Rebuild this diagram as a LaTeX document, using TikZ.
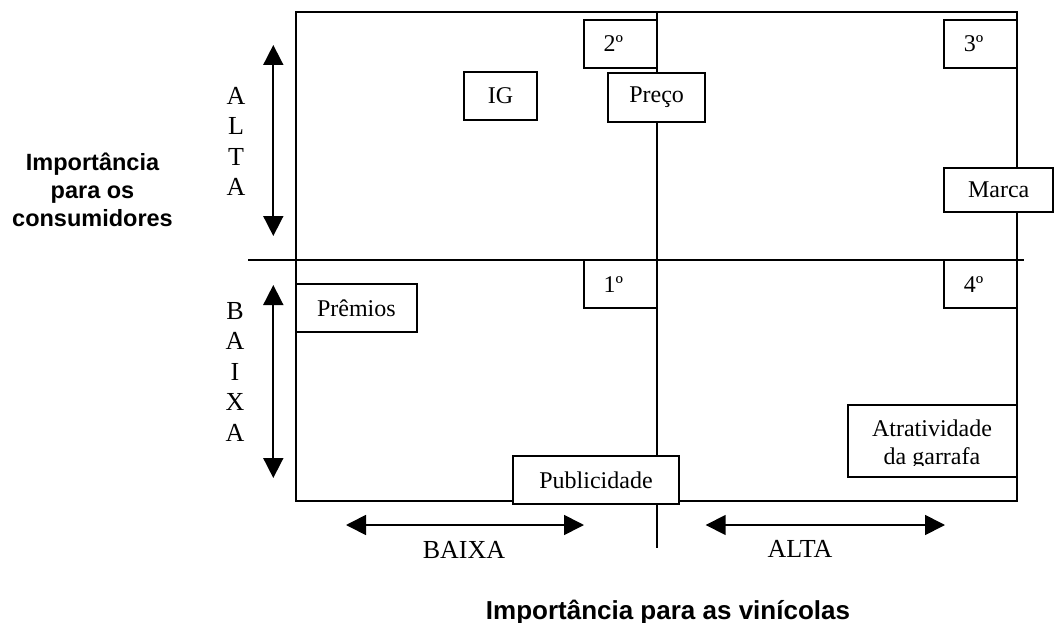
\documentclass[tikz,border=0pt]{standalone}
\usepackage{fontspec}
\setmainfont{Liberation Serif}
\newfontfamily\arialfont{Liberation Sans}
\usetikzlibrary{arrows.meta}
\tikzset{
  ln/.style={line width=1.7pt},
  bx/.style={draw, line width=1.7pt, fill=white, inner sep=0pt, font=\fontsize{24}{27.5}\selectfont},
  dbl/.style={line width=1.7pt, {Triangle[length=20pt,width=20pt]}-{Triangle[length=20pt,width=20pt]}},
  vlet/.style={align=center, inner sep=0pt, font=\fontsize{26}{30.5}\selectfont},
  axlbl/.style={inner sep=0pt, font=\fontsize{26}{30}\selectfont},
  ttl/.style={inner sep=0pt, align=center, font=\arialfont\bfseries\fontsize{23.5}{28}\selectfont},
}
\begin{document}
\begin{tikzpicture}[x=1pt,y=-1pt]
\useasboundingbox (0,0) rectangle (1055,623);
% frame and axes
\coordinate (tl) at (296,12);
\coordinate (br) at (1016.7,500.7);
\coordinate (hl) at (248,260);
\coordinate (hr) at (1024,260);
\coordinate (vt) at (656.7,12);
\coordinate (vb) at (656.7,548);
\draw[ln] (tl) rectangle (br);
\draw[ln] (hl) -- (hr);
\draw[ln] (vt) -- (vb);
% arrows
\coordinate (a1t) at (273.3,45);
\coordinate (a1b) at (273.3,236);
\coordinate (a2t) at (273.3,285);
\coordinate (a2b) at (273.3,478);
\coordinate (a3l) at (346,525);
\coordinate (a3r) at (584,525);
\coordinate (a4l) at (705.7,525);
\coordinate (a4r) at (945,525);
\draw[dbl] (a1t) -- (a1b);
\draw[dbl] (a2t) -- (a2b);
\draw[dbl] (a3l) -- (a3r);
\draw[dbl] (a4l) -- (a4r);
% boxes
\node[bx, minimum width=72.7pt, minimum height=48pt] (q2) at (620.35,44) {2º\hspace*{14pt}};
\node[bx, minimum width=72.4pt, minimum height=48pt] (ig) at (500.5,96) {IG};
\node[bx, minimum width=96.7pt, minimum height=49pt] (preco) at (656.65,97.5) {Preço};
\node[bx, minimum width=72.4pt, minimum height=48pt] (q3) at (980.5,44) {3º\hspace*{14pt}};
\node[bx, minimum width=108.7pt, minimum height=44.6pt] (marca) at (998.65,190) {Marca};
\node[bx, minimum width=72.7pt, minimum height=48.3pt] (q1) at (620.35,284.15) {1º\hspace*{14pt}};
\node[bx, minimum width=72.4pt, minimum height=48.3pt] (q4) at (980.5,284.15) {4º\hspace*{14pt}};
\node[bx, minimum width=120.7pt, minimum height=48pt] (premios) at (356.35,308.3) {Prêmios};
\node[bx, minimum width=166.6pt, minimum height=48pt] (publ) at (596,480) {Publicidade};
\node[bx, minimum width=168.4pt, minimum height=72pt] (atr) at (932.5,440.7) {};
\begin{scope}
\clip (849,405) rectangle (1016,465);
\node[align=center, inner sep=0pt, font=\fontsize{24}{27.5}\selectfont] (atrt) at (932,444.8) {Atratividade\\da garrafa};
\end{scope}
% labels
\node[vlet] (altav) at (236,141.3) {A\\L\\T\\A};
\node[vlet] (baixav) at (235,371.7) {B\\A\\I\\X\\A};
\node[axlbl, anchor=base] (baixah) at (464,558) {BAIXA};
\node[axlbl, anchor=base] (altah) at (800,557) {ALTA};
\node[ttl] (ycap) at (92.5,190) {Importância\\para os\\consumidores};
\node[ttl, anchor=base, font=\arialfont\bfseries\fontsize{26}{30}\selectfont] (xcap) at (668,619) {Importância para as vinícolas};
\end{tikzpicture}
\end{document}
